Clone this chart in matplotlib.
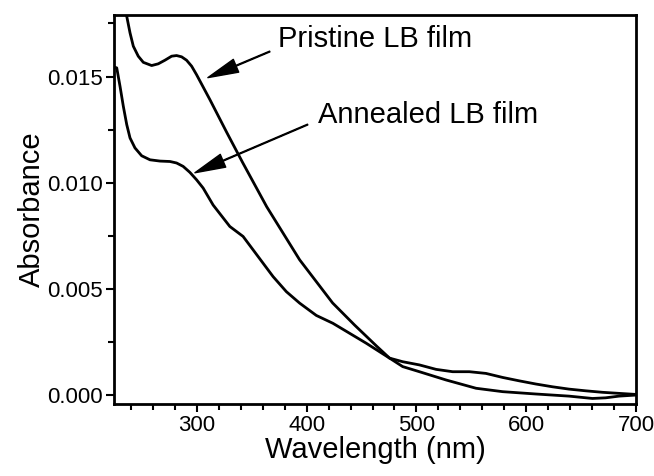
import numpy as np
import matplotlib
matplotlib.use("Agg")
import matplotlib.pyplot as plt
from matplotlib.ticker import MultipleLocator

plt.rcParams['font.family'] = ['Liberation Sans', 'DejaVu Sans']

# UV-vis absorbance spectra (wavelength in nm)
pristine_wl = [233.0, 236.1, 239.1, 242.1, 246.6, 251.2, 258.8, 264.8, 270.9, 277.0,
               281.5, 286.1, 290.6, 295.2, 299.7, 305.7, 311.8, 327.3, 341.8, 363.6,
               393.6, 423.6, 443.6, 463.6, 475.5, 487.5, 502.7, 527.0, 554.3, 578.5,
               608.8, 639.0, 660.3, 672.4, 684.5, 700.0]
pristine_abs = [0.01880, 0.01784, 0.01706, 0.01643, 0.01596, 0.01567, 0.01552, 0.01560,
                0.01577, 0.01596, 0.01599, 0.01593, 0.01577, 0.01549, 0.01509, 0.01451,
                0.01392, 0.01236, 0.01094, 0.00887, 0.00637, 0.00434, 0.00330, 0.00231,
                0.00174, 0.00134, 0.00110, 0.00071, 0.00032, 0.00016, 0.00005, -0.00005,
                -0.00016, -0.00013, -0.00005, 0.0]

annealed_wl = [224.5, 227.0, 230.0, 233.0, 236.1, 239.1, 243.6, 249.7, 257.3, 266.4,
               275.5, 281.5, 287.5, 293.6, 299.7, 305.7, 314.8, 330.0, 342.1, 351.2,
               360.3, 369.4, 381.5, 393.6, 408.8, 423.9, 439.1, 454.3, 475.5, 487.5,
               502.7, 517.9, 533.0, 548.2, 563.3, 578.5, 593.6, 608.8, 623.9, 639.0,
               654.2, 669.4, 684.5, 700.0]
annealed_abs = [0.01545, 0.01541, 0.01454, 0.01360, 0.01274, 0.01211, 0.01164, 0.01127,
                0.01108, 0.01102, 0.01100, 0.01093, 0.01077, 0.01049, 0.01014, 0.00975,
                0.00895, 0.00794, 0.00747, 0.00684, 0.00621, 0.00558, 0.00487, 0.00433,
                0.00375, 0.00338, 0.00291, 0.00244, 0.00174, 0.00157, 0.00142, 0.00121,
                0.00110, 0.00110, 0.00102, 0.00083, 0.00067, 0.00052, 0.00039, 0.00028,
                0.00020, 0.00013, 0.00008, 0.00003]

fig = plt.figure(figsize=(6.54, 4.76), dpi=100)
ax = fig.add_axes([0.1743, 0.1513, 0.7982, 0.8172])

ax.plot(pristine_wl, pristine_abs, color='black', lw=2, solid_joinstyle='round')
ax.plot(annealed_wl, annealed_abs, color='black', lw=2, solid_joinstyle='round')

ax.set_xlim(224.5, 700)
ax.set_ylim(-0.00042, 0.0179)

ax.xaxis.set_major_locator(MultipleLocator(100))
ax.xaxis.set_minor_locator(MultipleLocator(20))
ax.yaxis.set_major_locator(MultipleLocator(0.005))
ax.yaxis.set_minor_locator(MultipleLocator(0.0025))
ax.yaxis.set_major_formatter(plt.FormatStrFormatter('%.3f'))

ax.tick_params(which='both', direction='out', width=1.5, labelsize=16, colors='black')
ax.tick_params(which='major', length=6, pad=2)
ax.tick_params(which='minor', length=4)
for s in ax.spines.values():
    s.set_linewidth(2)

ax.set_xlabel('Wavelength (nm)', fontsize=21, labelpad=0)
ax.set_ylabel('Absorbance', fontsize=21, labelpad=1)

# labels with pointer arrows
arrow = dict(facecolor='black', edgecolor='black', width=0.6, headwidth=10,
             headlength=22, shrink=0)
ax.annotate('', xy=(310, 0.01495), xytext=(366.4, 0.01618), arrowprops=arrow)
ax.annotate('', xy=(298.2, 0.01047), xytext=(400.9, 0.01274), arrowprops=arrow)
ax.text(374, 0.01637, 'Pristine LB film', fontsize=21, va='baseline', ha='left')
ax.text(410, 0.01283, 'Annealed LB film', fontsize=21, va='baseline', ha='left')

fig.savefig('out.png', dpi=100)
